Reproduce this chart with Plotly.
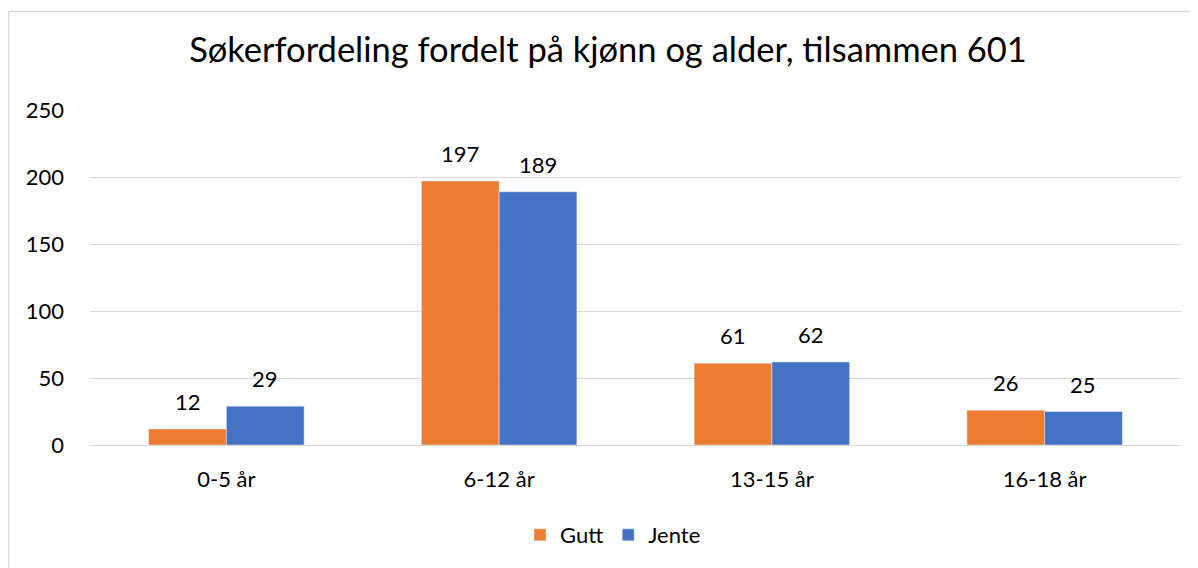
import plotly.graph_objects as go

categories = ["0-5 år", "6-12 år", "13-15 år", "16-18 år"]
gutt = [12, 197, 61, 26]
jente = [29, 189, 62, 25]
y_ticks = [0, 50, 100, 150, 200, 250]

# page has an 8px body margin, so the figure is 8px smaller
W, H = 1190, 560
L, R, T, B = 82, 17, 102, 123
pw, ph = W - L - R, H - T - B

font = "Lato, 'Open Sans', sans-serif"
label_size = 22

fig = go.Figure()
fig.add_trace(go.Bar(name="Gutt", x=categories, y=gutt, marker_color="#ED7D31"))
fig.add_trace(go.Bar(name="Jente", x=categories, y=jente, marker_color="#4472C4"))

bar_px = pw / len(categories) * (1 - 0.43) / 2
for series, shift in ((gutt, -bar_px / 2), (jente, bar_px / 2)):
    for cat, v in zip(categories, series):
        fig.add_annotation(x=cat, y=v, text=str(v), showarrow=False, xref="x", yref="y",
                           xshift=shift, yanchor="bottom", yshift=12,
                           font=dict(size=label_size, family=font, color="#000000"))

fig.update_layout(
    width=W, height=H,
    margin=dict(l=L, r=R, t=T, b=B),
    paper_bgcolor="white", plot_bgcolor="white",
    barmode="group", bargap=0.43, bargroupgap=0,
    font=dict(family=font, size=label_size, color="#000000"),
    title=dict(text="Søkerfordeling fordelt på kjønn og alder, tilsammen 601",
               x=(608 - 8) / W, xref="container", xanchor="center", y=1 - 42 / H, yanchor="middle",
               font=dict(size=34.5, family=font, color="#000000")),
    xaxis=dict(showgrid=False, showline=False, ticks="", tickfont=dict(size=label_size),
               ticklabelstandoff=19),
    yaxis=dict(range=[0, 250], tickvals=y_ticks, showgrid=True, gridcolor="#d9d9d9",
               gridwidth=1, zeroline=True, zerolinecolor="#d9d9d9", zerolinewidth=1,
               showline=False, ticks="", tickfont=dict(size=label_size), ticklabelstandoff=25),
    legend=dict(orientation="h", x=(613 - 90) / pw, xanchor="center", y=-90 / ph, yanchor="middle",
                font=dict(size=label_size), traceorder="normal"),
    showlegend=True,
)

fig.add_shape(type="rect", xref="paper", yref="paper",
              x0=(0.5 - L) / pw, x1=(W + 5 - L) / pw,
              y0=-(B + 5) / ph, y1=(ph + T - 3.5) / ph,
              line=dict(color="#d9d9d9", width=1.5), fillcolor="rgba(0,0,0,0)", layer="below")

fig.write_html("out.html")
